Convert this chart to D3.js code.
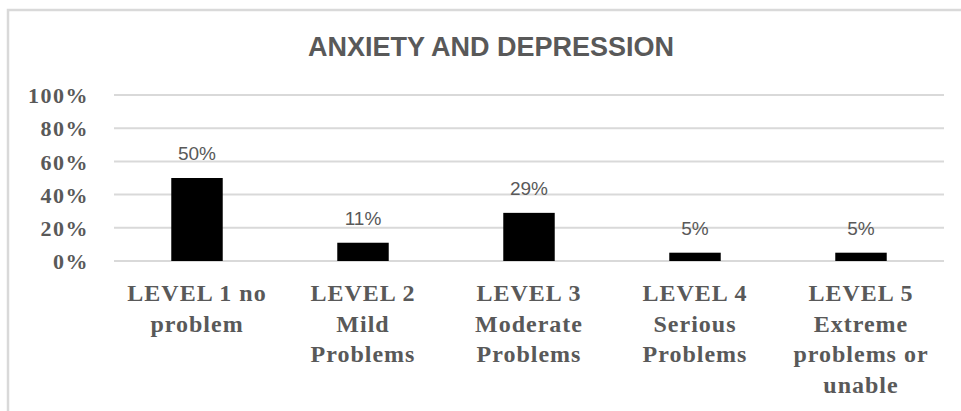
<!DOCTYPE html>
<html>
<head>
<meta charset="utf-8">
<script src="https://cdn.jsdelivr.net/npm/d3@7"></script>
<style>
  body { margin: 0; background: #fff; }
  svg { display: block; }
  .serif-label { font-family: "Liberation Serif", "Times New Roman", "DejaVu Serif", serif; font-weight: bold; }
</style>
</head>
<body>
<svg id="chart"></svg>
<script>
// chart data
const categories = [
  "LEVEL 1 no\nproblem",
  "LEVEL 2\nMild\nProblems",
  "LEVEL 3\nModerate\nProblems",
  "LEVEL 4\nSerious\nProblems",
  "LEVEL 5\nExtreme\nproblems or\nunable"
];
const values = [0.50, 0.11, 0.29, 0.05, 0.05];
const yTicks = [0, 0.2, 0.4, 0.6, 0.8, 1.0];
const chartTitle = "ANXIETY AND DEPRESSION";

const width = 961, height = 411;
const margin = { top: 95, right: 17, bottom: 150, left: 114 };
const innerW = width - margin.left - margin.right;
const innerH = height - margin.top - margin.bottom;

const svg = d3.select("#chart")
  .attr("width", width)
  .attr("height", height);

// outer frame
svg.append("rect")
  .attr("x", 8)
  .attr("y", 10)
  .attr("width", width)
  .attr("height", height)
  .attr("fill", "none")
  .attr("stroke", "#d9d9d9")
  .attr("stroke-width", 2.5);

// title
svg.append("text")
  .attr("x", 491)
  .attr("y", 56)
  .attr("text-anchor", "middle")
  .style("font-family", "'Liberation Sans Narrow', 'Arial Narrow', 'Liberation Sans', sans-serif")
  .style("font-weight", "bold")
  .style("font-size", "27px")
  .attr("fill", "#595959")
  .text(chartTitle);

const g = svg.append("g")
  .attr("transform", `translate(${margin.left},${margin.top})`);

const xScale = d3.scaleBand()
  .domain(categories)
  .range([0, innerW])
  .paddingInner(0.69)
  .paddingOuter(0.345);

const yScale = d3.scaleLinear()
  .domain([0, 1])
  .range([innerH, 0]);

// gridlines
g.append("g")
  .selectAll("line")
  .data(yTicks)
  .join("line")
  .attr("x1", 0)
  .attr("x2", innerW)
  .attr("y1", d => yScale(d))
  .attr("y2", d => yScale(d))
  .attr("stroke", "#d9d9d9")
  .attr("stroke-width", 2);

// y axis labels
const yAxis = d3.axisLeft(yScale)
  .tickValues(yTicks)
  .tickFormat(d3.format(".0%"))
  .tickSize(0)
  .tickPadding(25);

const yAxisGroup = g.append("g").call(yAxis)
  .attr("font-family", null)
  .attr("font-size", null);
yAxisGroup.select(".domain").remove();
yAxisGroup.selectAll("text")
  .attr("class", "serif-label")
  .attr("dy", "0.35em")
  .style("font-size", "22px")
  .style("letter-spacing", "1.5px")
  .attr("fill", "#595959");

// bars
g.selectAll(".bar")
  .data(values)
  .join("rect")
  .attr("class", "bar")
  .attr("x", (d, i) => xScale(categories[i]))
  .attr("y", d => yScale(d))
  .attr("width", xScale.bandwidth())
  .attr("height", d => innerH - yScale(d))
  .attr("fill", "#000");

// value labels
g.selectAll(".value-label")
  .data(values)
  .join("text")
  .attr("class", "value-label")
  .attr("x", (d, i) => xScale(categories[i]) + xScale.bandwidth() / 2)
  .attr("y", d => yScale(d) - 18)
  .attr("text-anchor", "middle")
  .style("font-family", "'Liberation Sans', Arial, sans-serif")
  .style("font-size", "19px")
  .attr("fill", "#595959")
  .text(d => d3.format(".0%")(d));

// category labels (multi-line)
const xAxis = d3.axisBottom(xScale).tickSize(0).tickFormat("");
const xAxisGroup = g.append("g")
  .attr("transform", `translate(0,${innerH})`)
  .call(xAxis)
  .attr("font-family", null)
  .attr("font-size", null);
xAxisGroup.select(".domain").remove();

xAxisGroup.selectAll(".tick")
  .append("text")
  .attr("class", "serif-label")
  .attr("text-anchor", "middle")
  .style("font-size", "24px")
  .style("letter-spacing", "1px")
  .attr("fill", "#595959")
  .selectAll("tspan")
  .data(d => d.split("\n"))
  .join("tspan")
  .attr("x", 0)
  .attr("y", (d, i) => 40 + i * 30.7)
  .text(d => d);
</script>
</body>
</html>
